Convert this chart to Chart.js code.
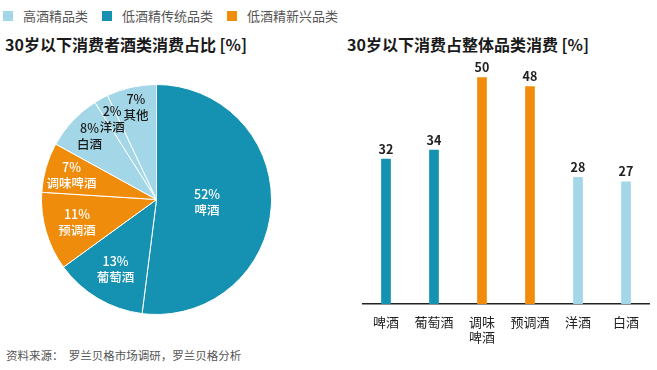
<!DOCTYPE html>
<html lang="zh">
<head>
<meta charset="UTF-8">
<title>30岁以下酒类消费</title>
<script src="https://cdn.jsdelivr.net/npm/chart.js"></script>
<style>
    body { margin: 0; width: 657px; height: 370px; background: #fff; position: relative; overflow: hidden;
           font-family: "Noto Sans CJK SC", "Noto Sans", sans-serif; color: #222; }
    .legend { position: absolute; top: 6px; left: 3px; font-size: 13px; color: #555; display: flex; }
    .legend span { display: flex; align-items: center; margin-right: 14px; }
    .legend i { display: inline-block; width: 10px; height: 10px; margin-right: 10px; }
    .title { position: absolute; top: 32px; font-size: 16px; font-weight: bold; color: #1a1a1a; }
    .source { position: absolute; left: 6px; top: 347px; font-size: 11.5px; color: #555; }
    #pieBox { position: absolute; left: 41px; top: 84px; width: 231px; height: 231px; }
    #barBox { position: absolute; left: 362px; top: 55px; width: 288px; height: 295px; }
</style>
</head>
<body>
    <div class="legend">
        <span><i style="background:#a3d6e7"></i>高酒精品类</span>
        <span><i style="background:#1592b2"></i>低酒精传统品类</span>
        <span><i style="background:#f08c0c"></i>低酒精新兴品类</span>
    </div>
    <div class="title" style="left:5px">30岁以下消费者酒类消费占比 [%]</div>
    <div class="title" style="left:347px">30岁以下消费占整体品类消费 [%]</div>
    <div id="pieBox"><canvas id="pieChart"></canvas></div>
    <div id="barBox"><canvas id="barChart"></canvas></div>
    <div class="source">资料来源：&nbsp;&nbsp;罗兰贝格市场调研，罗兰贝格分析</div>

<script>
    // 颜色
    const HIGH = '#a3d6e7', TRAD = '#1592b2', NEW = '#f08c0c';

    // 左图：饼图数据
    const pieLabels = ['啤酒', '葡萄酒', '预调酒', '调味啤酒', '白酒', '洋酒', '其他'];
    const pieValues = [52, 13, 11, 7, 8, 2, 7];
    const pieGroups = ['trad', 'trad', 'new', 'new', 'high', 'high', 'high'];

    // 右图：柱状图数据
    const barLabels = ['啤酒', '葡萄酒', ['调味', '啤酒'], '预调酒', '洋酒', '白酒'];
    const barValues = [32, 34, 50, 48, 28, 27];
    const barGroups = ['trad', 'trad', 'new', 'new', 'high', 'high'];

    const groupColor = { high: HIGH, trad: TRAD, new: NEW };
    const FONT = '"Noto Sans CJK SC", "Noto Sans", sans-serif';

    // 饼图内标签
    const pieLabelPlugin = {
        id: 'pieLabels',
        afterDatasetsDraw(chart) {
            const ctx = chart.ctx;
            const arcs = chart.getDatasetMeta(0).data;
            const dist = [0.44, 0.70, 0.72, 0.77, 0.80, 0.80, 0.82];
            ctx.save();
            ctx.font = '500 12.5px ' + FONT;
            ctx.textAlign = 'center';
            ctx.textBaseline = 'middle';
            arcs.forEach((arc, i) => {
                const mid = (arc.startAngle + arc.endAngle) / 2;
                const r = arc.outerRadius * dist[i];
                const x = arc.x + Math.cos(mid) * r;
                const y = arc.y + Math.sin(mid) * r;
                ctx.fillStyle = pieGroups[i] === 'high' ? '#1a1a1a' : '#fff';
                ctx.fillText(pieValues[i] + '%', x, y - 8);
                ctx.fillText(pieLabels[i], x, y + 8);
            });
            ctx.restore();
        }
    };

    // 柱顶数值
    const barValuePlugin = {
        id: 'barValues',
        afterDatasetsDraw(chart) {
            const ctx = chart.ctx;
            ctx.save();
            ctx.font = 'bold 12.5px ' + FONT;
            ctx.fillStyle = '#222';
            ctx.textAlign = 'center';
            ctx.textBaseline = 'bottom';
            chart.getDatasetMeta(0).data.forEach((bar, i) => {
                ctx.fillText(barValues[i], bar.x, bar.y - 4);
            });
            ctx.restore();
        }
    };

    new Chart(document.getElementById('pieChart'), {
        type: 'pie',
        data: {
            labels: pieLabels,
            datasets: [{
                data: pieValues,
                backgroundColor: pieGroups.map(g => groupColor[g]),
                borderColor: '#fff',
                borderWidth: 1,
                hoverOffset: 0
            }]
        },
        options: {
            responsive: true,
            maintainAspectRatio: false,
            animation: false,
            layout: { padding: 0 },
            plugins: { legend: { display: false }, tooltip: { enabled: false } }
        },
        plugins: [pieLabelPlugin]
    });

    new Chart(document.getElementById('barChart'), {
        type: 'bar',
        data: {
            labels: barLabels,
            datasets: [{
                data: barValues,
                backgroundColor: barGroups.map(g => groupColor[g]),
                barThickness: 9
            }]
        },
        options: {
            responsive: true,
            maintainAspectRatio: false,
            animation: false,
            layout: { padding: 0 },
            plugins: { legend: { display: false }, tooltip: { enabled: false } },
            scales: {
                x: {
                    grid: { display: false, drawTicks: false },
                    border: { display: true, color: '#222', width: 1.5 },
                    ticks: { color: '#222', font: { size: 13, family: FONT, lineHeight: 1.2 }, padding: 10, maxRotation: 0 },
                    afterFit: axis => { axis.height = 46; }
                },
                y: { display: false, min: 0, max: 55 }
            }
        },
        plugins: [barValuePlugin]
    });
</script>
</body>
</html>
